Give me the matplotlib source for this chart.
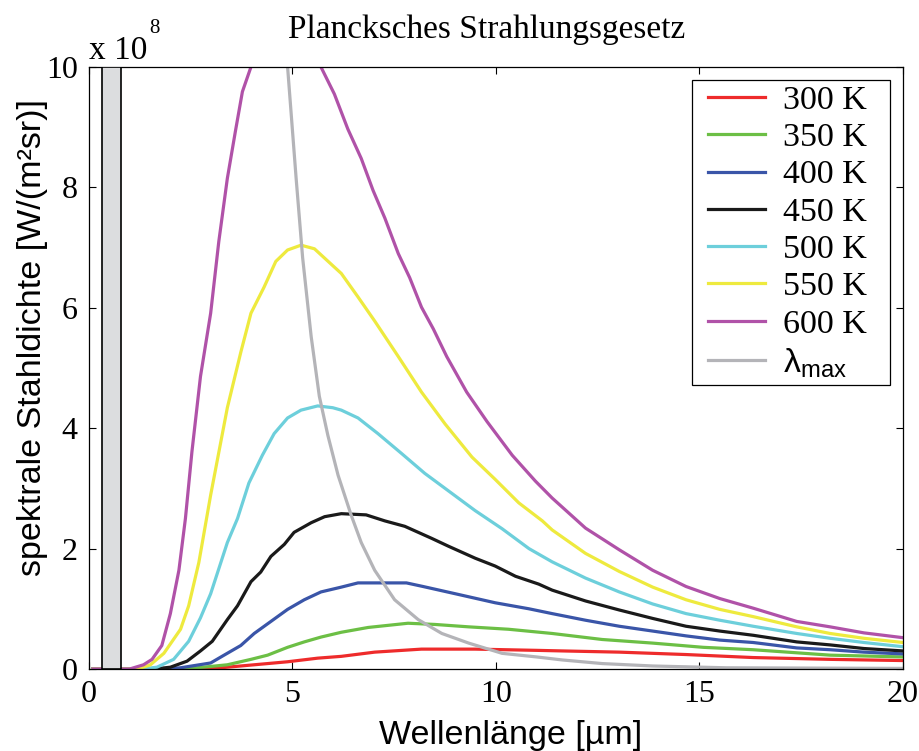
import matplotlib
matplotlib.use('Agg')
import matplotlib.pyplot as plt
from matplotlib.patches import Rectangle

plt.rcParams['mathtext.fontset'] = 'custom'
plt.rcParams['mathtext.rm'] = 'Liberation Serif'
plt.rcParams['mathtext.sf'] = 'Liberation Sans'

# Kurven (Wellenlänge in µm, Strahldichte in 1e8)
wl_300 = [0.1, 2.5, 3.07, 4.06, 4.88, 5.62, 6.2, 7.02, 8.17, 9.49, 10.97, 11.63, 13.03, 14.67, 16.32, 18.21, 20.0]
val_300 = [0.0, 0.0, 0.01, 0.07, 0.12, 0.18, 0.21, 0.28, 0.33, 0.33, 0.31, 0.30, 0.28, 0.24, 0.19, 0.16, 0.14]

wl_350 = [0.1, 2.2, 2.66, 3.4, 3.98, 4.39, 4.88, 5.29, 5.7, 6.2, 6.86, 7.84, 8.5, 9.33, 10.31, 11.38, 12.61, 13.85, 15.09, 16.32, 18.21, 20.0]
val_350 = [0.0, 0.0, 0.02, 0.07, 0.16, 0.23, 0.36, 0.45, 0.53, 0.61, 0.69, 0.76, 0.74, 0.70, 0.66, 0.59, 0.49, 0.43, 0.36, 0.32, 0.23, 0.20]

wl_400 = [0.1, 1.8, 2.25, 2.99, 3.32, 3.73, 4.06, 4.47, 4.88, 5.29, 5.7, 6.2, 6.61, 7.8, 8.21, 9.0, 9.98, 10.81, 11.38, 12.2, 13.03, 13.85, 14.67, 15.5, 16.32, 17.39, 18.21, 19.04, 20.0]
val_400 = [0.0, 0.0, 0.02, 0.10, 0.23, 0.39, 0.59, 0.79, 0.99, 1.15, 1.28, 1.36, 1.43, 1.43, 1.37, 1.25, 1.10, 1.00, 0.92, 0.81, 0.71, 0.63, 0.55, 0.48, 0.44, 0.35, 0.32, 0.28, 0.25]

wl_450 = [0.1, 1.6, 2.0, 2.41, 2.74, 3.03, 3.4, 3.65, 3.98, 4.22, 4.47, 4.8, 5.04, 5.46, 5.79, 6.2, 6.81, 7.27, 7.76, 8.42, 8.83, 9.49, 9.98, 10.48, 11.05, 11.38, 12.2, 13.03, 13.85, 14.67, 15.5, 16.32, 17.39, 18.21, 19.04, 20.0]
val_450 = [0.0, 0.0, 0.03, 0.13, 0.30, 0.46, 0.82, 1.05, 1.45, 1.61, 1.87, 2.07, 2.27, 2.43, 2.53, 2.58, 2.56, 2.46, 2.37, 2.17, 2.04, 1.84, 1.71, 1.54, 1.41, 1.31, 1.13, 0.98, 0.84, 0.71, 0.63, 0.56, 0.45, 0.40, 0.34, 0.30]

wl_500 = [0.1, 1.3, 1.67, 2.08, 2.45, 2.74, 2.99, 3.4, 3.65, 3.93, 4.26, 4.55, 4.88, 5.21, 5.62, 5.99, 6.2, 6.61, 7.1, 7.68, 8.25, 8.83, 9.49, 10.15, 10.81, 11.38, 12.2, 13.03, 13.85, 14.67, 15.5, 16.32, 17.39, 18.21, 19.04, 20.0]
val_500 = [0.0, 0.0, 0.03, 0.16, 0.46, 0.85, 1.25, 2.10, 2.50, 3.09, 3.55, 3.91, 4.17, 4.30, 4.37, 4.34, 4.30, 4.17, 3.91, 3.58, 3.25, 2.96, 2.63, 2.33, 2.00, 1.78, 1.51, 1.28, 1.08, 0.92, 0.81, 0.71, 0.59, 0.51, 0.44, 0.37]

wl_550 = [0.1, 1.2, 1.51, 1.84, 2.25, 2.45, 2.7, 2.99, 3.4, 3.73, 3.98, 4.3, 4.59, 4.88, 5.21, 5.54, 5.99, 6.2, 6.61, 7.02, 7.6, 8.17, 8.75, 9.41, 9.98, 10.56, 11.14, 11.38, 12.2, 13.03, 13.85, 14.67, 15.5, 16.32, 17.39, 18.21, 19.04, 20.0]
val_550 = [0.0, 0.0, 0.07, 0.26, 0.66, 1.05, 1.77, 2.89, 4.34, 5.26, 5.91, 6.34, 6.77, 6.96, 7.04, 6.98, 6.70, 6.57, 6.18, 5.78, 5.19, 4.60, 4.07, 3.52, 3.15, 2.76, 2.46, 2.31, 1.92, 1.62, 1.36, 1.15, 0.99, 0.87, 0.70, 0.59, 0.51, 0.44]

wl_600 = [0.1, 1.0, 1.34, 1.55, 1.79, 2.0, 2.21, 2.37, 2.53, 2.74, 2.99, 3.19, 3.4, 3.6, 3.77, 3.98, 4.4, 4.85, 5.3, 5.7, 6.03, 6.36, 6.69, 6.98, 7.27, 7.6, 7.88, 8.17, 8.46, 8.79, 9.28, 9.78, 10.4, 10.97, 11.38, 12.2, 13.03, 13.85, 14.67, 15.5, 16.32, 17.39, 18.21, 19.04, 20.0]
val_600 = [0.0, 0.0, 0.07, 0.16, 0.39, 0.92, 1.64, 2.50, 3.61, 4.86, 5.91, 7.10, 8.15, 8.94, 9.59, 10.0, 10.9, 11.1, 10.8, 10.0, 9.55, 8.97, 8.48, 7.95, 7.49, 6.90, 6.50, 6.01, 5.65, 5.19, 4.60, 4.11, 3.55, 3.12, 2.84, 2.34, 1.98, 1.64, 1.37, 1.17, 1.01, 0.79, 0.70, 0.60, 0.52]

wl_lmax = [4.6, 4.88, 5.09, 5.25, 5.46, 5.66, 5.87, 6.12, 6.44, 6.69, 7.02, 7.51, 8.09, 8.67, 9.33, 10.15, 11.0, 11.63, 12.61, 13.85, 15.66, 20.0]
val_lmax = [12.0, 10.0, 8.15, 6.83, 5.52, 4.53, 3.88, 3.22, 2.56, 2.10, 1.64, 1.15, 0.82, 0.59, 0.43, 0.26, 0.20, 0.15, 0.09, 0.05, 0.02, 0.01]

labels = ['300 K', '350 K', '400 K', '450 K', '500 K', '550 K', '600 K']
farben = ['#ee2b2b', '#6cbf45', '#3a55a8', '#1a1a1a', '#6dcfdb', '#eeea3e', '#b052a8']
kurven = [(wl_300, val_300), (wl_350, val_350), (wl_400, val_400), (wl_450, val_450),
          (wl_500, val_500), (wl_550, val_550), (wl_600, val_600)]

fig = plt.figure(figsize=(9.2, 7.51), dpi=100)
ax = fig.add_axes([0.0967, 0.1092, 0.8848, 0.8016])

for (wl, val), lab, c in zip(kurven, labels, farben):
    ax.plot(wl, val, color=c, lw=2.3, label=lab)
ax.plot(wl_lmax, val_lmax, color='#b4b4b8', lw=2.3, label=r'$\mathsf{λ}_{\mathsf{max}}$')

# grauer Balken links
ax.add_patch(Rectangle((0.31, 0), 0.47, 10, facecolor='#dcdddf', edgecolor='black', lw=1.2, zorder=5))

ax.set_xlim(0, 20)
ax.set_ylim(0, 10)
ax.set_xticks([0, 5, 10, 15, 20])
ax.set_yticks([0, 2, 4, 6, 8, 10])
ax.tick_params(direction='in', top=True, right=True, length=5, width=0.8, labelsize=23, pad=8)
for t in ax.get_xticklabels() + ax.get_yticklabels():
    t.set_family('Liberation Serif')
for s in ax.spines.values():
    s.set_linewidth(0.9)

ax.set_xlabel('Wellenlänge [µm]', family='Liberation Sans', fontsize=24.5)
ax.xaxis.set_label_coords(0.518, -0.085)
ax.set_ylabel('spektrale Stahldichte [W/(m²sr)]', family='Liberation Sans', fontsize=24.5)
ax.yaxis.set_label_coords(-0.050, 0.551)
ax.text(0.488, 1.048, 'Plancksches Strahlungsgesetz', transform=ax.transAxes, fontsize=24,
        family='Liberation Serif', ha='center', va='baseline')
ax.text(0.0, 1.0133, 'x 10', transform=ax.transAxes, fontsize=24,
        family='Liberation Serif', ha='left', va='baseline')
ax.text(0.0737, 1.0565, '8', transform=ax.transAxes, fontsize=15,
        family='Liberation Serif', ha='left', va='baseline')

# Legendenrahmen separat, damit die Innenabstände passen
ax.add_patch(Rectangle((0.7408, 0.4718), 0.2432, 0.5066, transform=ax.transAxes,
                       facecolor='white', edgecolor='black', lw=0.9, zorder=6))
leg = ax.legend(loc='upper left', bbox_to_anchor=(0.760, 0.970), borderaxespad=0, borderpad=0,
                frameon=False, prop={'family': 'Liberation Serif', 'size': 24.5},
                handlelength=1.68, labelspacing=0.19, handletextpad=0.53)
leg.set_zorder(7)

fig.savefig('out.png', dpi=100)
